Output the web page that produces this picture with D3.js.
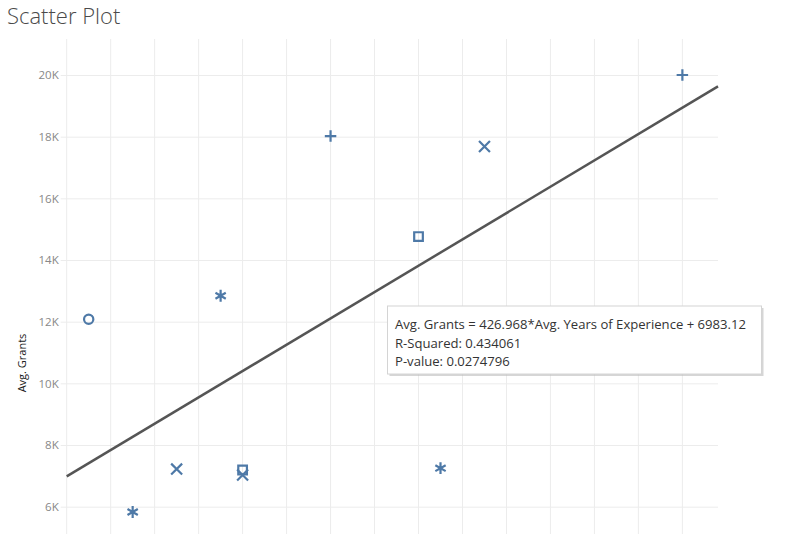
<!DOCTYPE html>
<html>
<head>
<meta charset="utf-8">
<script src="https://cdn.jsdelivr.net/npm/d3@7"></script>
<style>
  body { margin: 0; background: #fff; }
  svg { display: block; font-family: "Open Sans", "DejaVu Sans", sans-serif; }
</style>
</head>
<body>
<svg></svg>
<script>
// Data
let years = [1, 3, 5, 7, 8, 8, 12, 16, 17, 19, 28];
let grants = [12080, 5830, 7220, 12840, 7190, 7030, 18020, 14760, 7250, 17680, 20000];
let shapes = ['circle', 'asterisk', 'times', 'asterisk', 'square', 'times', 'plus', 'square', 'asterisk', 'times', 'plus'];
let yTicks = [6000, 8000, 10000, 12000, 14000, 16000, 18000, 20000];
let xTicks = [0, 2, 4, 6, 8, 10, 12, 14, 16, 18, 20, 22, 24, 26, 28];

// Trend line coefficients
let slope = 426.968, intercept = 6983.12;
let trendLines = [
  'Avg. Grants = 426.968*Avg. Years of Experience + 6983.12',
  'R-Squared: 0.434061',
  'P-value: 0.0274796'
];

// SVG dimensions
let width = 797, height = 534;
let plotLeft = 66.7, plotRight = 718, plotTop = 39, plotBottom = 534;

let svg = d3.select('svg').attr('width', width).attr('height', height);

// Scales
let xScale = d3.scaleLinear().domain([0, 29.62]).range([plotLeft, plotRight]);
let yScale = d3.scaleLinear().domain([6000, 20000]).range([506.7, 75]);

// Title
svg.append('text')
  .attr('x', 7)
  .attr('y', 24)
  .attr('font-size', 22)
  .attr('font-weight', 300)
  .attr('fill', '#4a4a4a')
  .text('Scatter Plot');

// Vertical grid
svg.append('g')
  .selectAll('line')
  .data(xTicks)
  .enter()
  .append('line')
  .attr('x1', d => xScale(d)).attr('x2', d => xScale(d))
  .attr('y1', plotTop).attr('y2', plotBottom)
  .attr('stroke', '#ececec')
  .attr('stroke-width', 1);

// Y axis with horizontal grid
let yAxis = d3.axisLeft(yScale)
  .tickValues(yTicks)
  .tickSize(-(plotRight - plotLeft))
  .tickPadding(8)
  .tickFormat(d => (d / 1000) + 'K');

let yg = svg.append('g')
  .attr('transform', `translate(${plotLeft}, 0)`)
  .call(yAxis);
yg.select('.domain').remove();
yg.selectAll('.tick line')
  .attr('x1', -6)
  .attr('stroke', '#ececec');
yg.selectAll('.tick text')
  .attr('fill', '#888')
  .attr('font-size', 11.5)
  .attr('font-family', '"Open Sans", sans-serif');

// Y axis title
svg.append('text')
  .attr('transform', 'translate(26, 363) rotate(-90)')
  .attr('text-anchor', 'middle')
  .attr('font-size', 11)
  .attr('fill', '#222')
  .text('Avg. Grants');

// Trend line
let x0 = xScale.domain()[0], x1 = xScale.domain()[1];
svg.append('line')
  .attr('x1', xScale(x0)).attr('y1', yScale(slope * x0 + intercept))
  .attr('x2', xScale(x1)).attr('y2', yScale(slope * x1 + intercept))
  .attr('stroke', '#555')
  .attr('stroke-width', 2.5);

// Marks
let symbolTypes = {
  circle: d3.symbolCircle,
  square: d3.symbolSquare2,
  plus: d3.symbolPlus,
  times: d3.symbolTimes,
  asterisk: d3.symbolAsterisk
};
let symbolSizes = { circle: 68, square: 95, plus: 45, times: 80, asterisk: 100 };

svg.append('g')
  .selectAll('path')
  .data(years)
  .enter()
  .append('path')
  .attr('transform', (d, i) => `translate(${xScale(d)}, ${yScale(grants[i])})`)
  .attr('d', (d, i) => d3.symbol().type(symbolTypes[shapes[i]]).size(symbolSizes[shapes[i]])())
  .attr('fill', 'none')
  .attr('stroke', '#4e79a7')
  .attr('stroke-width', 2.2);

// Trend line annotation box
let box = svg.append('g').attr('transform', 'translate(387.5, 306)');
box.append('rect')
  .attr('x', 2).attr('y', 2)
  .attr('width', 374).attr('height', 68)
  .attr('fill', '#bbb')
  .attr('opacity', 0.6);
box.append('rect')
  .attr('width', 374).attr('height', 68)
  .attr('fill', '#fff')
  .attr('stroke', '#d4d4d4');
box.selectAll('text')
  .data(trendLines)
  .enter()
  .append('text')
  .attr('x', 7.5)
  .attr('y', (d, i) => 23 + i * 18.5)
  .attr('font-size', 13.1)
  .attr('fill', '#333')
  .text(d => d);
</script>
</body>
</html>
